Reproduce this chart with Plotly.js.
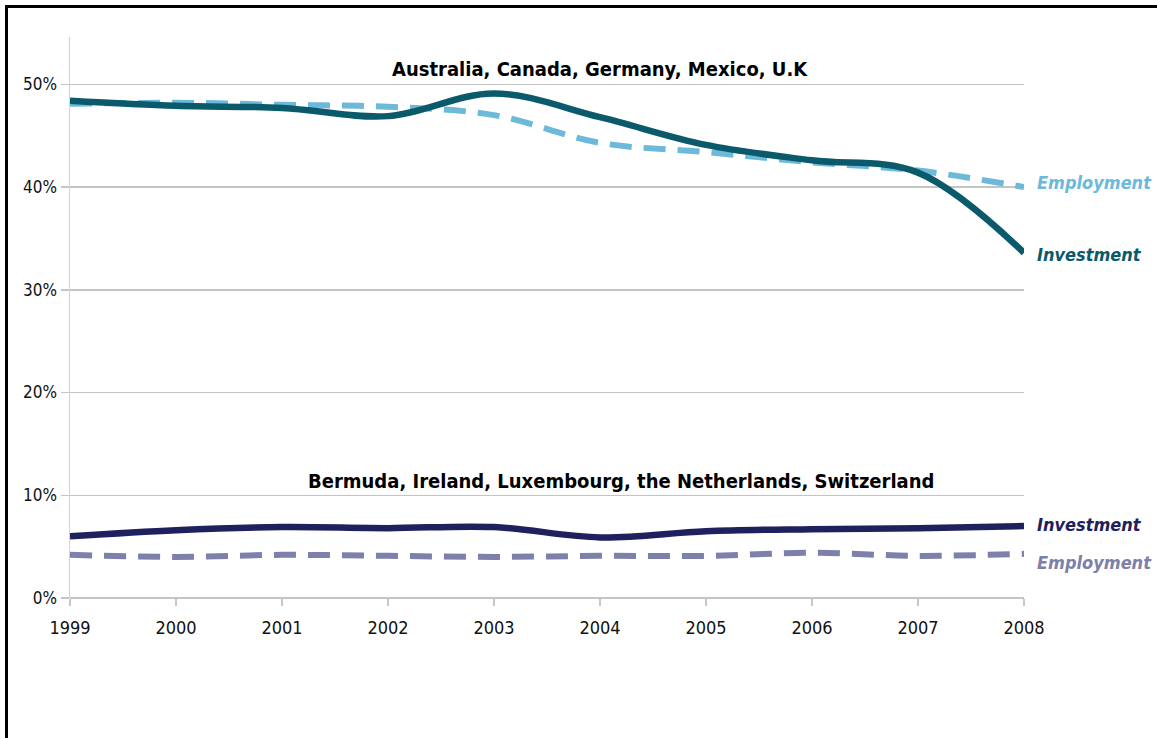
<!DOCTYPE html>
<html>
<head>
<meta charset="utf-8">
<script src="https://cdn.plot.ly/plotly-3.0.1.min.js"></script>
<style>
html,body{margin:0;padding:0;background:#fff;overflow:hidden;}
#frame{position:absolute;left:5px;top:5px;width:1300px;height:900px;border-left:3px solid #000;border-top:3px solid #000;box-sizing:border-box;pointer-events:none;z-index:5;}
#chart{position:absolute;left:0;top:0;width:1157px;height:738px;}
</style>
</head>
<body>
<div id="chart"></div>
<div id="frame"></div>
<script>
const years = [1999, 2000, 2001, 2002, 2003, 2004, 2005, 2006, 2007, 2008];
const groupA = "Australia, Canada, Germany, Mexico, U.K";
const groupB = "Bermuda, Ireland, Luxembourg, the Netherlands, Switzerland";
const investA = [48.4, 47.9, 47.7, 46.9, 49.1, 46.8, 44.1, 42.6, 41.4, 33.6];
const employA = [48.1, 48.2, 48.0, 47.8, 47.0, 44.3, 43.4, 42.4, 41.6, 40.0];
const investB = [6.0, 6.6, 6.9, 6.8, 6.9, 5.9, 6.5, 6.7, 6.8, 7.0];
const employB = [4.2, 4.0, 4.2, 4.1, 4.0, 4.1, 4.1, 4.4, 4.1, 4.3];
const yTicks = [0, 10, 20, 30, 40, 50];
const yTickLabels = ["0%", "10%", "20%", "30%", "40%", "50%"];

const cInvA = "#0b5a6c", cEmpA = "#6cb9d9", cInvB = "#1f205e", cEmpB = "#7c80aa";
const narrow = "DejaVu Sans Condensed, Liberation Sans Narrow, sans-serif";

const traces = [
  {x: years, y: employA, mode: "lines", line: {color: cEmpA, width: 6, dash: "22px,12px", shape: "spline", smoothing: 1}, hoverinfo: "skip"},
  {x: years, y: investA, mode: "lines", line: {color: cInvA, width: 6.5, shape: "spline", smoothing: 1}, hoverinfo: "skip"},
  {x: years, y: employB, mode: "lines", line: {color: cEmpB, width: 6, dash: "22px,12px", shape: "spline", smoothing: 1}, hoverinfo: "skip"},
  {x: years, y: investB, mode: "lines", line: {color: cInvB, width: 6.5, shape: "spline", smoothing: 1}, hoverinfo: "skip"}
];

const last = years.length - 1;
function sideLabel(text, yv, color) {
  return {x: years[last], y: yv, xref: "x", yref: "y", text: "<b><i>" + text + "</i></b>", showarrow: false,
    xanchor: "left", xshift: 11, yanchor: "middle", font: {family: narrow, size: 18, color: color}};
}

const layout = {
  width: 1157, height: 738,
  margin: {l: 70, r: 133, t: 37, b: 140},
  paper_bgcolor: "#fff", plot_bgcolor: "#fff",
  showlegend: false,
  xaxis: {
    range: [years[0], years[last]], tickvals: years, ticktext: years.map(String),
    showgrid: false, zeroline: false, showline: false,
    ticks: "outside", ticklen: 7, tickcolor: "#c8c8c8", tickwidth: 1.5,
    ticklabelstandoff: 6,
    tickfont: {family: narrow, size: 18, color: "#111"}
  },
  yaxis: {
    range: [0, 54.6], tickvals: yTicks, ticktext: yTickLabels,
    showgrid: true, gridcolor: "#c4c4c4", gridwidth: 1.5,
    zeroline: true, zerolinecolor: "#c4c4c4", zerolinewidth: 1.5,
    showline: true, linecolor: "#d4d4d4", linewidth: 1.5,
    ticks: "outside", ticklen: 8, tickcolor: "#c4c4c4", tickwidth: 1.5,
    tickfont: {family: narrow, size: 17, color: "#111"}
  },
  annotations: [
    {x: 2004.0, y: 50, xref: "x", yref: "y", text: "<b>" + groupA + "</b>", showarrow: false, yanchor: "bottom", yshift: 1,
      font: {family: narrow, size: 20, color: "#000"}},
    {x: 2004.2, y: 10, xref: "x", yref: "y", text: "<b>" + groupB + "</b>", showarrow: false, yanchor: "bottom", yshift: 0,
      font: {family: narrow, size: 20, color: "#000"}},
    sideLabel("Employment", employA[last] + 0.4, cEmpA),
    sideLabel("Investment", investA[last] - 0.2, cInvA),
    sideLabel("Investment", investB[last] + 0.2, cInvB),
    sideLabel("Employment", employB[last] - 0.8, cEmpB)
  ]
};

Plotly.newPlot("chart", traces, layout, {displayModeBar: false, staticPlot: true});
</script>
</body>
</html>
